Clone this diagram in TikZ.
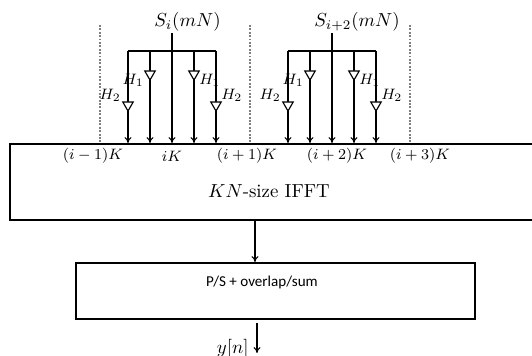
\documentclass[tikz,border=0pt]{standalone}
\usepackage{fontspec}
\usepackage{tikz}
\usetikzlibrary{arrows.meta,positioning,calc,shapes.geometric}
\newfontfamily\calib{Carlito}

\begin{document}
\begin{tikzpicture}[
  x=0.53pt,y=-0.53pt,
  box/.style={rectangle,draw,line width=0.9pt,inner sep=0pt},
  wire/.style={line width=0.6pt},
  arr/.style={-{To[length=1.1mm,width=1.3mm]},line width=0.6pt},
  sep/.style={gray,line width=0.6pt,dash pattern=on 1pt off 0.8pt},
  gain/.style={regular polygon,regular polygon sides=3,shape border rotate=180,draw,fill=white,line width=0.6pt,inner sep=0pt,minimum size=6.4pt},
  lbl/.style={font=\footnotesize,inner sep=0.5pt}
]
  \clip (0,0) rectangle (532,356);
  % IFFT block, its right side runs off the page
  \node[box,minimum width=284pt,minimum height=40.3pt,anchor=north west] (fft) at (9,143) {};
  \node (fftlbl) at (269,191) {$KN$-size IFFT};
  \node[lbl] (k0) at (93,156) {$(i-1)K$};
  \node[lbl] (k1) at (172,156) {$iK$};
  \node[lbl] (k2) at (247,156) {$(i+1)K$};
  \node[lbl] (k3) at (337,156) {$(i+2)K$};
  \node[lbl] (k4) at (420,156) {$(i+3)K$};
  % subcarrier group boundaries
  \foreach \x/\n in {100/1,250/2,410/3} {
    \coordinate (d\n) at (\x,25);
    \draw[sep] (d\n) -- (d\n |- fft.north);
  }
  % symbol spread over five subcarriers
  \foreach \c/\n/\s in {172/1/{S_i(mN)},332/2/{S_{i+2}(mN)}} {
    \coordinate (s\n) at (\c,33);
    \node[anchor=west,inner sep=0pt] (lab\n) at (\c-18,22) {$\s$};
    \coordinate (bl\n) at (\c-44,51);
    \coordinate (br\n) at (\c+44,51);
    \draw[wire] (bl\n) -- (br\n);
    \draw[arr] (s\n) -- (s\n |- fft.north);
    \foreach \d/\k in {-44/a,-22/b,22/c,44/d} {
      \coordinate (t\n\k) at (\c+\d,51);
      \draw[arr] (t\n\k) -- (t\n\k |- fft.north);
    }
    \node[gain] (g\n a) at (\c-44,105) {};
    \node[gain] (g\n b) at (\c-22,74) {};
    \node[gain] (g\n c) at (\c+22,74) {};
    \node[gain] (g\n d) at (\c+44,105) {};
    \node[lbl,anchor=east] (h\n a) at (\c-50,95) {$H_2$};
    \node[lbl,anchor=east] (h\n b) at (\c-27,80) {$H_1$};
    \node[lbl,anchor=west] (h\n c) at (\c+26,80) {$H_1$};
    \node[lbl,anchor=west] (h\n d) at (\c+48,95) {$H_2$};
  }
  % parallel to serial
  \node[box,minimum width=211.5pt,minimum height=29.7pt,anchor=north west] (ps) at (75,262) {};
  \node[font=\calib\footnotesize] (pslbl) at (262,282) {P/S + overlap/sum};
  \coordinate (mid) at (255,0);
  \draw[arr] (mid |- fft.south) -- (mid |- ps.north);
  \coordinate (out) at (257,353);
  \draw[arr] ([yshift=-2pt]ps.south -| out) -- (out);
  \node[anchor=east,inner sep=0pt] (yn) at (249,349) {$y[n]$};
\end{tikzpicture}
\end{document}
